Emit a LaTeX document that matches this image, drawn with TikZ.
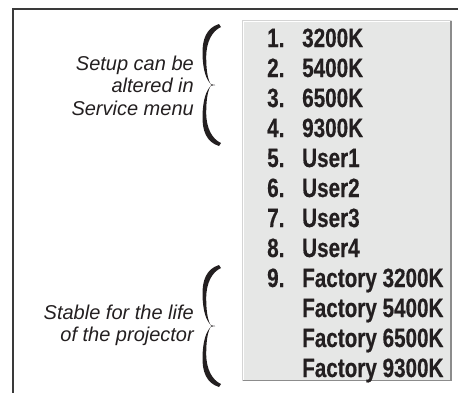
\documentclass[tikz,border=0pt]{standalone}
\usepackage{fontspec}
\setmainfont{Liberation Sans}
\newfontfamily\listfont[FakeStretch=0.78,FakeBold=0.4]{Liberation Sans}
\definecolor{ink}{HTML}{231F20}
\definecolor{framec}{HTML}{3A3A3A}
\definecolor{panelfill}{HTML}{E6E7E6}
\definecolor{panelrim}{HTML}{D4D4D4}
\definecolor{panelshadow}{HTML}{8C8C8C}
\tikzset{
  listnum/.style={anchor=base west, inner sep=0pt, text=ink, font=\listfont\bfseries\fontsize{26.5}{30}\selectfont},
  listitem/.style={listnum},
  note/.style={anchor=base east, inner sep=0pt, text=ink, font=\itshape\fontsize{20}{23}\selectfont},
  bracefill/.style={fill=ink}
}
\newcommand\halfbrace{%
  \fill[bracefill] (219,24) .. controls (206,28) and (202,40) .. (202.5,55)
    .. controls (203,70) and (206,80) .. (211.5,84.6) -- (215,85) -- (211.5,85.4)
    .. controls (207.5,80) and (206.2,70) .. (206.2,56)
    .. controls (206.5,42) and (212,31) .. (221,27) -- cycle;}
\begin{document}
\begin{tikzpicture}[x=1pt,y=-1pt]
\useasboundingbox (0,0) rectangle (458,392);
% outer open frame
\draw[framec, line width=2pt] (13,393) -- (13,9) -- (459,9);
% panel
\fill[panelfill] (242,20) rectangle (452,381);
\draw[panelrim, line width=1pt] (242.5,381) -- (242.5,20.5) -- (451,20.5);
\draw[white, line width=1pt] (243.8,380) -- (243.8,21.8) -- (450,21.8);
\draw[panelshadow, line width=1.5pt] (243,380.5) -- (451.2,380.5) -- (451.2,21);
% list
\foreach \n/\t [count=\i from 0] in {1./3200K,2./5400K,3./6500K,4./9300K,5./User1,6./User2,7./User3,8./User4,9./Factory 3200K}{
  \node[listnum] (n\i) at (267,47+30*\i) {\n};
  \node[listitem] (t\i) at (302,47+30*\i) {\t};
}
\node[listitem] (t9) at (302,317) {Factory 5400K};
\node[listitem] (t10) at (302,347) {Factory 6500K};
\node[listitem] (t11) at (302,377) {Factory 9300K};
% notes
\node[note] (a1) at (194,70) {Setup can be};
\node[note] (a2) at (194,92.8) {altered in};
\node[note] (a3) at (194,115.5) {Service menu};
\node[note] (b1) at (194,319.5) {Stable for the life};
\node[note] (b2) at (194,341) {of the projector};
% braces
\foreach \yo in {0,241}{
  \begin{scope}[shift={(0,\yo)}]
    \halfbrace
  \end{scope}
  \begin{scope}[shift={(0,170+\yo)}, yscale=-1]
    \halfbrace
  \end{scope}
}
\end{tikzpicture}
\end{document}
